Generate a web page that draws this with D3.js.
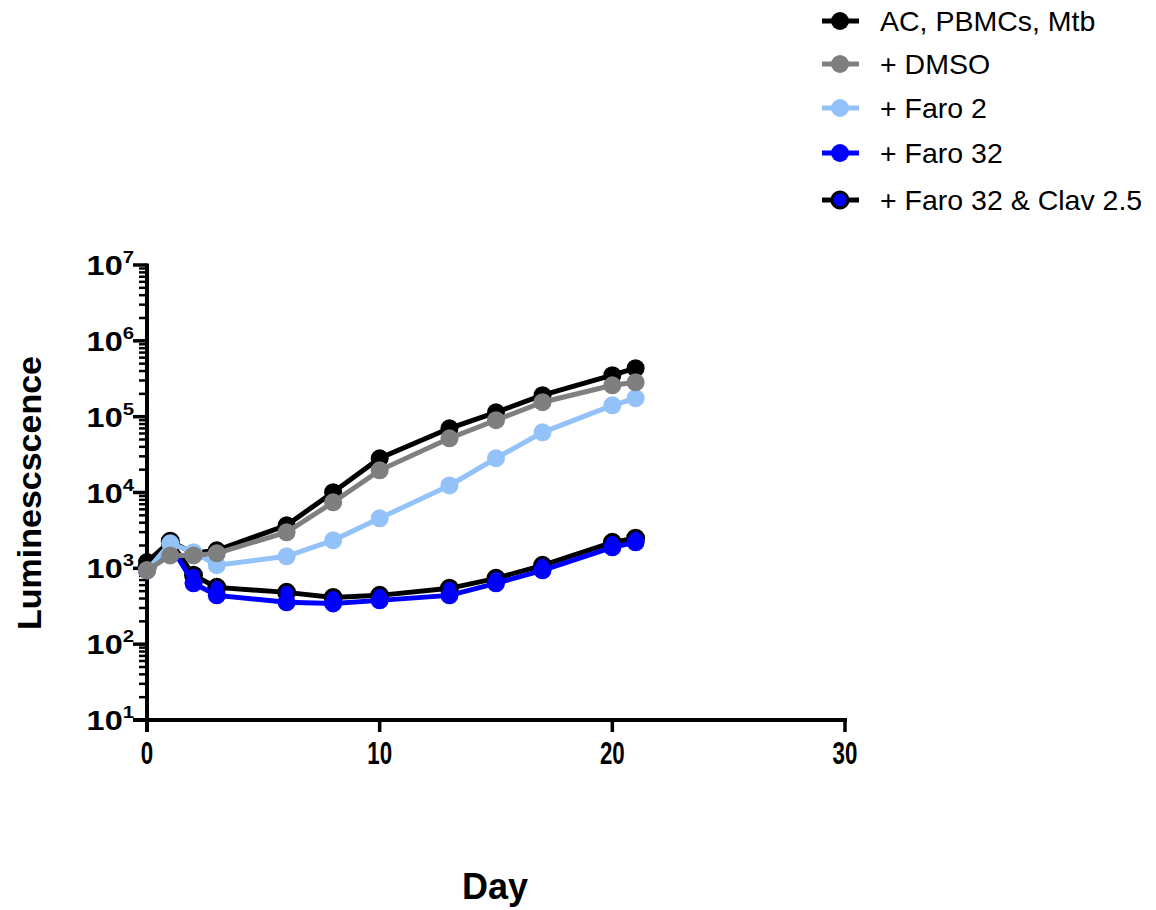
<!DOCTYPE html>
<html>
<head>
<meta charset="utf-8">
<script src="https://cdn.jsdelivr.net/npm/d3@7"></script>
<style>
  body { margin: 0; background: #fff; }
  svg { font-family: "Liberation Sans", Arial, sans-serif; }
</style>
</head>
<body>
<div id="chart"></div>
<script>
// days sampled
const days = [0, 1, 2, 3, 6, 8, 10, 13, 15, 17, 20, 21];

// luminescence per series
const acPbmcMtb = [1210, 2270, 1580, 1730, 3690, 10100, 28300, 70300, 114000, 192000, 352000, 436000];
const dmso      = [940, 1480, 1480, 1580, 2990, 7430, 19600, 51900, 89800, 155000, 259000, 284000];
const faro2     = [940, 2140, 1630, 1100, 1440, 2340, 4570, 12400, 28300, 62200, 141000, 175000];
const faro32    = [940, 2050, 634, 440, 356, 345, 378, 440, 634, 940, 1890, 2200];
const faro32Clav = [1000, 2270, 809, 561, 482, 414, 440, 545, 738, 1095, 2200, 2490];

const seriesNames = ["AC, PBMCs, Mtb", "+ DMSO", "+ Faro 2", "+ Faro 32", "+ Faro 32 & Clav 2.5"];
const xTicks = [0, 10, 20, 30];
const yExponents = [1, 2, 3, 4, 5, 6, 7];

const series = [
  { name: seriesNames[0], values: acPbmcMtb, line: "#000000", fill: "#000000", stroke: "none" },
  { name: seriesNames[1], values: dmso, line: "#7f7f7f", fill: "#7f7f7f", stroke: "none" },
  { name: seriesNames[2], values: faro2, line: "#92c2f8", fill: "#92c2f8", stroke: "none" },
  { name: seriesNames[3], values: faro32, line: "#0000ff", fill: "#0000ff", stroke: "none" },
  { name: seriesNames[4], values: faro32Clav, line: "#000000", fill: "#0000ff", stroke: "#000000" }
];
// draw order (last on top)
const drawOrder = [4, 3, 0, 2, 1];

const W = 1156, H = 910;
const svg = d3.select("#chart").append("svg").attr("width", W).attr("height", H);

const x = d3.scaleLinear().domain([0, 30]).range([147, 845]);
const y = d3.scaleLog().domain([10, 1e7]).range([720, 265]);

// minor ticks on y
const minor = [];
for (let e = 1; e < 7; e++) for (let m = 2; m <= 9; m++) minor.push(m * Math.pow(10, e));

const axisW = 4;
svg.append("g").selectAll("line").data(minor).enter().append("line")
  .attr("x1", 147 - 8).attr("x2", 147)
  .attr("y1", d => y(d)).attr("y2", d => y(d))
  .attr("stroke", "#000").attr("stroke-width", 2.5);

svg.append("g").selectAll("line").data(yExponents).enter().append("line")
  .attr("x1", 147 - 14).attr("x2", 147)
  .attr("y1", d => y(Math.pow(10, d))).attr("y2", d => y(Math.pow(10, d)))
  .attr("stroke", "#000").attr("stroke-width", 3.5);

// y axis line
svg.append("line").attr("x1", 147).attr("x2", 147)
  .attr("y1", y(1e7) - 1.5).attr("y2", y(10) + 12)
  .attr("stroke", "#000").attr("stroke-width", axisW);

// x axis line
svg.append("line").attr("x1", 147 - 14).attr("x2", x(30) + 2)
  .attr("y1", y(10)).attr("y2", y(10))
  .attr("stroke", "#000").attr("stroke-width", axisW);

svg.append("g").selectAll("line").data(xTicks).enter().append("line")
  .attr("x1", d => x(d)).attr("x2", d => x(d))
  .attr("y1", y(10)).attr("y2", y(10) + 12)
  .attr("stroke", "#000").attr("stroke-width", 3.5);

// x tick labels (narrow, tall glyphs as in the original)
svg.append("g").selectAll("text").data(xTicks).enter().append("text")
  .attr("transform", d => "translate(" + x(d) + "," + (y(10) + 44) + ") scale(0.72,1)")
  .attr("text-anchor", "middle")
  .attr("font-size", 31).attr("font-weight", "bold")
  .text(d => d);

// y tick labels
const yl = svg.append("g").selectAll("text").data(yExponents).enter().append("text")
  .attr("transform", d => "translate(134," + (y(Math.pow(10, d)) + 10) + ") scale(1.2,1)")
  .attr("text-anchor", "end")
  .attr("font-size", 27).attr("font-weight", "bold");
yl.append("tspan").text("10");
yl.append("tspan").attr("dy", -12).attr("font-size", 17).text(d => d);

// axis titles
svg.append("text")
  .attr("transform", "translate(41," + 493 + ") rotate(-90)")
  .attr("text-anchor", "middle")
  .attr("font-size", 34).attr("font-weight", "bold")
  .text("Luminescscence");

svg.append("text")
  .attr("x", 495).attr("y", 899)
  .attr("text-anchor", "middle")
  .attr("font-size", 36).attr("font-weight", "bold")
  .text("Day");

// series
const line = d3.line().x((d, i) => x(days[i])).y(d => y(d));

drawOrder.forEach(k => {
  const s = series[k];
  const g = svg.append("g");
  g.append("path").datum(s.values)
    .attr("d", line).attr("fill", "none")
    .attr("stroke", s.line).attr("stroke-width", 5);
  g.selectAll("circle").data(s.values).enter().append("circle")
    .attr("cx", (d, i) => x(days[i])).attr("cy", d => y(d))
    .attr("r", s.stroke !== "none" ? 8 : 9)
    .attr("fill", s.fill)
    .attr("stroke", s.stroke === "none" ? null : s.stroke)
    .attr("stroke-width", s.stroke === "none" ? null : 3);
});

// legend
const legY = [21, 64, 108, 153, 200];
const leg = svg.append("g").selectAll("g").data(series).enter().append("g")
  .attr("transform", (d, i) => "translate(0," + legY[i] + ")");
leg.append("line").attr("x1", 822).attr("x2", 859).attr("y1", 0).attr("y2", 0)
  .attr("stroke", d => d.line).attr("stroke-width", 5);
leg.append("circle").attr("cx", 840).attr("cy", 0)
  .attr("r", d => d.stroke !== "none" ? 8 : 9)
  .attr("fill", d => d.fill)
  .attr("stroke", d => d.stroke === "none" ? null : d.stroke)
  .attr("stroke-width", d => d.stroke === "none" ? null : 3);
leg.append("text").attr("x", 880).attr("y", 10)
  .attr("font-size", 28.5)
  .text(d => d.name);
</script>
</body>
</html>
